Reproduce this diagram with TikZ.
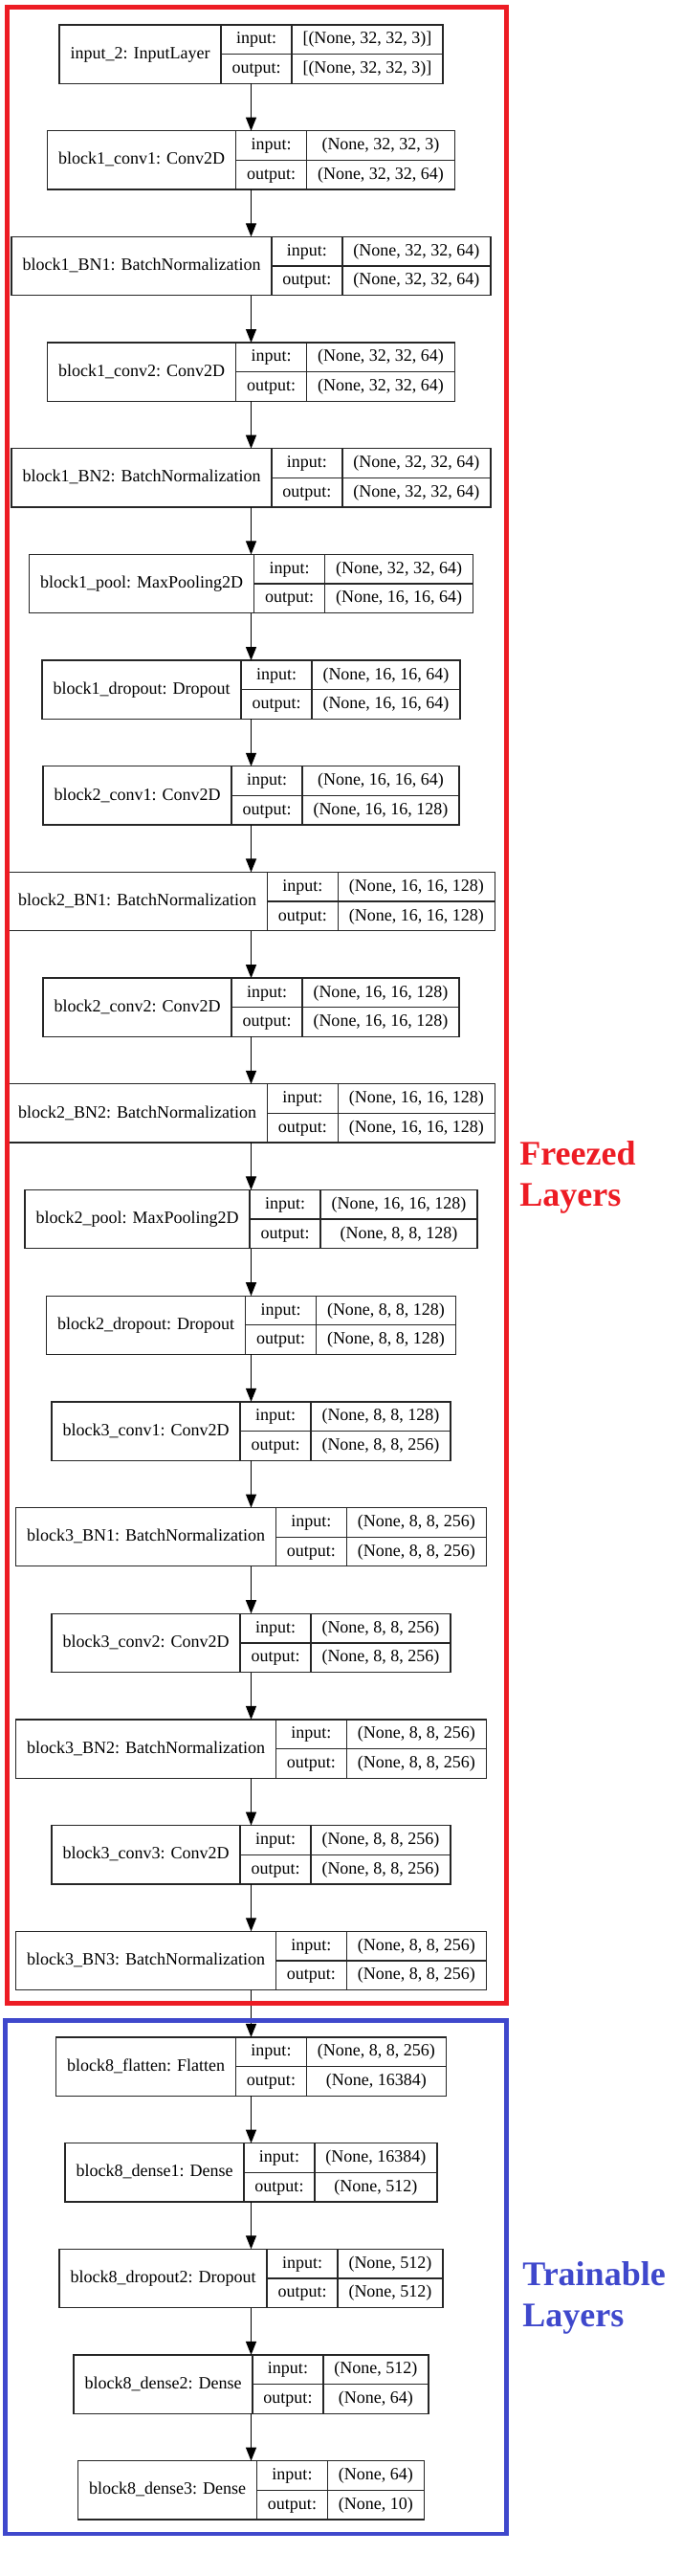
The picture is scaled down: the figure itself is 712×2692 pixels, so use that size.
\documentclass[tikz,border=0pt]{standalone}
\usepackage{fontspec}
\setmainfont{Liberation Serif}
\usetikzlibrary{arrows.meta}

\definecolor{freezered}{RGB}{237,28,36}
\definecolor{trainblue}{RGB}{63,72,204}

\newcommand\recfont{\fontsize{9}{11}\selectfont}
\newdimen\namew
\newdimen\labw
\newdimen\valw
\newdimen\tmpw

% one keras layer: node, row, title, input shape, output shape
\newcommand\kerasrow[5]{%
  \pgfinterruptpicture
    \setbox0=\hbox{\recfont #3}\global\namew=\wd0
    \setbox0=\hbox{\recfont output:}\global\labw=\wd0
    \setbox0=\hbox{\recfont #4}\global\valw=\wd0
    \setbox0=\hbox{\recfont #5}\global\tmpw=\wd0
  \endpgfinterruptpicture
  \ifdim\tmpw>\valw \valw=\tmpw\fi
  \advance\namew by 11.5pt
  \advance\labw by 11.5pt
  \advance\valw by 11.5pt
  \node [layer, minimum width=\namew+\labw+\valw] (#1) at (262.5,{56.65+110.68*#2}) {};
  \node [cell, minimum width=\namew, minimum height=30.65pt, anchor=west] (#1-name) at (#1.west) {#3};
  \node [cell, minimum width=\labw, anchor=north west] (#1-in) at (#1-name.north east) {input:};
  \node [cell, minimum width=\labw, anchor=north west] (#1-out) at (#1-in.south west) {output:};
  \node [cell, minimum width=\valw, anchor=north west] (#1-vin) at (#1-in.north east) {#4};
  \node [cell, minimum width=\valw, anchor=north west] (#1-vout) at (#1-vin.south west) {#5};
  \draw [rule] (#1-name.north east) -- (#1-name.south east)
               (#1-in.north east) -- (#1-out.south east)
               (#1-in.south west) -- (#1-vin.south east);
}

\begin{document}
\begin{tikzpicture}[x=0.5pt, y=-0.5pt,
    layer/.style={draw=black!85, line width=0.65pt, minimum height=30.65pt, inner sep=0pt, outer sep=0pt},
    cell/.style={minimum height=15.325pt, inner sep=0pt, outer sep=0pt,
        text height=6.8pt, text depth=2.2pt, font=\recfont},
    rule/.style={draw=black!85, line width=0.65pt},
    flow/.style={line width=0.5pt, -{Triangle[length=7pt, width=5.5pt]}},
    sidetext/.style={font=\bfseries\fontsize{18}{21.5}\selectfont, align=left, inner sep=0pt, anchor=north west}]

    \useasboundingbox (0,0) rectangle (712,2692);

    \kerasrow{inp}{0}{input\_2: InputLayer}{[(None, 32, 32, 3)]}{[(None, 32, 32, 3)]}
    \kerasrow{b1conv1}{1}{block1\_conv1: Conv2D}{(None, 32, 32, 3)}{(None, 32, 32, 64)}
    \kerasrow{b1bn1}{2}{block1\_BN1: BatchNormalization}{(None, 32, 32, 64)}{(None, 32, 32, 64)}
    \kerasrow{b1conv2}{3}{block1\_conv2: Conv2D}{(None, 32, 32, 64)}{(None, 32, 32, 64)}
    \kerasrow{b1bn2}{4}{block1\_BN2: BatchNormalization}{(None, 32, 32, 64)}{(None, 32, 32, 64)}
    \kerasrow{b1pool}{5}{block1\_pool: MaxPooling2D}{(None, 32, 32, 64)}{(None, 16, 16, 64)}
    \kerasrow{b1drop}{6}{block1\_dropout: Dropout}{(None, 16, 16, 64)}{(None, 16, 16, 64)}

    \kerasrow{b2conv1}{7}{block2\_conv1: Conv2D}{(None, 16, 16, 64)}{(None, 16, 16, 128)}
    \kerasrow{b2bn1}{8}{block2\_BN1: BatchNormalization}{(None, 16, 16, 128)}{(None, 16, 16, 128)}
    \kerasrow{b2conv2}{9}{block2\_conv2: Conv2D}{(None, 16, 16, 128)}{(None, 16, 16, 128)}
    \kerasrow{b2bn2}{10}{block2\_BN2: BatchNormalization}{(None, 16, 16, 128)}{(None, 16, 16, 128)}
    \kerasrow{b2pool}{11}{block2\_pool: MaxPooling2D}{(None, 16, 16, 128)}{(None, 8, 8, 128)}
    \kerasrow{b2drop}{12}{block2\_dropout: Dropout}{(None, 8, 8, 128)}{(None, 8, 8, 128)}

    \kerasrow{b3conv1}{13}{block3\_conv1: Conv2D}{(None, 8, 8, 128)}{(None, 8, 8, 256)}
    \kerasrow{b3bn1}{14}{block3\_BN1: BatchNormalization}{(None, 8, 8, 256)}{(None, 8, 8, 256)}
    \kerasrow{b3conv2}{15}{block3\_conv2: Conv2D}{(None, 8, 8, 256)}{(None, 8, 8, 256)}
    \kerasrow{b3bn2}{16}{block3\_BN2: BatchNormalization}{(None, 8, 8, 256)}{(None, 8, 8, 256)}
    \kerasrow{b3conv3}{17}{block3\_conv3: Conv2D}{(None, 8, 8, 256)}{(None, 8, 8, 256)}
    \kerasrow{b3bn3}{18}{block3\_BN3: BatchNormalization}{(None, 8, 8, 256)}{(None, 8, 8, 256)}

    \kerasrow{b8flat}{19}{block8\_flatten: Flatten}{(None, 8, 8, 256)}{(None, 16384)}
    \kerasrow{b8dense1}{20}{block8\_dense1: Dense}{(None, 16384)}{(None, 512)}
    \kerasrow{b8drop2}{21}{block8\_dropout2: Dropout}{(None, 512)}{(None, 512)}
    \kerasrow{b8dense2}{22}{block8\_dense2: Dense}{(None, 512)}{(None, 64)}
    \kerasrow{b8dense3}{23}{block8\_dense3: Dense}{(None, 64)}{(None, 10)}

    \draw [flow] (inp) -- (b1conv1);
    \draw [flow] (b1conv1) -- (b1bn1);
    \draw [flow] (b1bn1) -- (b1conv2);
    \draw [flow] (b1conv2) -- (b1bn2);
    \draw [flow] (b1bn2) -- (b1pool);
    \draw [flow] (b1pool) -- (b1drop);
    \draw [flow] (b1drop) -- (b2conv1);
    \draw [flow] (b2conv1) -- (b2bn1);
    \draw [flow] (b2bn1) -- (b2conv2);
    \draw [flow] (b2conv2) -- (b2bn2);
    \draw [flow] (b2bn2) -- (b2pool);
    \draw [flow] (b2pool) -- (b2drop);
    \draw [flow] (b2drop) -- (b3conv1);
    \draw [flow] (b3conv1) -- (b3bn1);
    \draw [flow] (b3bn1) -- (b3conv2);
    \draw [flow] (b3conv2) -- (b3bn2);
    \draw [flow] (b3bn2) -- (b3conv3);
    \draw [flow] (b3conv3) -- (b3bn3);
    \draw [flow] (b3bn3) -- (b8flat);
    \draw [flow] (b8flat) -- (b8dense1);
    \draw [flow] (b8dense1) -- (b8drop2);
    \draw [flow] (b8drop2) -- (b8dense2);
    \draw [flow] (b8dense2) -- (b8dense3);

    \draw [freezered, line width=2.3pt] (7.5,7.5) rectangle (529.2,2093.3);
    \draw [trainblue, line width=2.3pt] (5.7,2111.7) rectangle (529.2,2648);

    \node [sidetext, text=freezered] (freeze) at (543,1192.4) {Freezed\\Layers};
    \node [sidetext, text=trainblue] (train) at (546,2362.7) {Trainable\\Layers};

\end{tikzpicture}
\end{document}
